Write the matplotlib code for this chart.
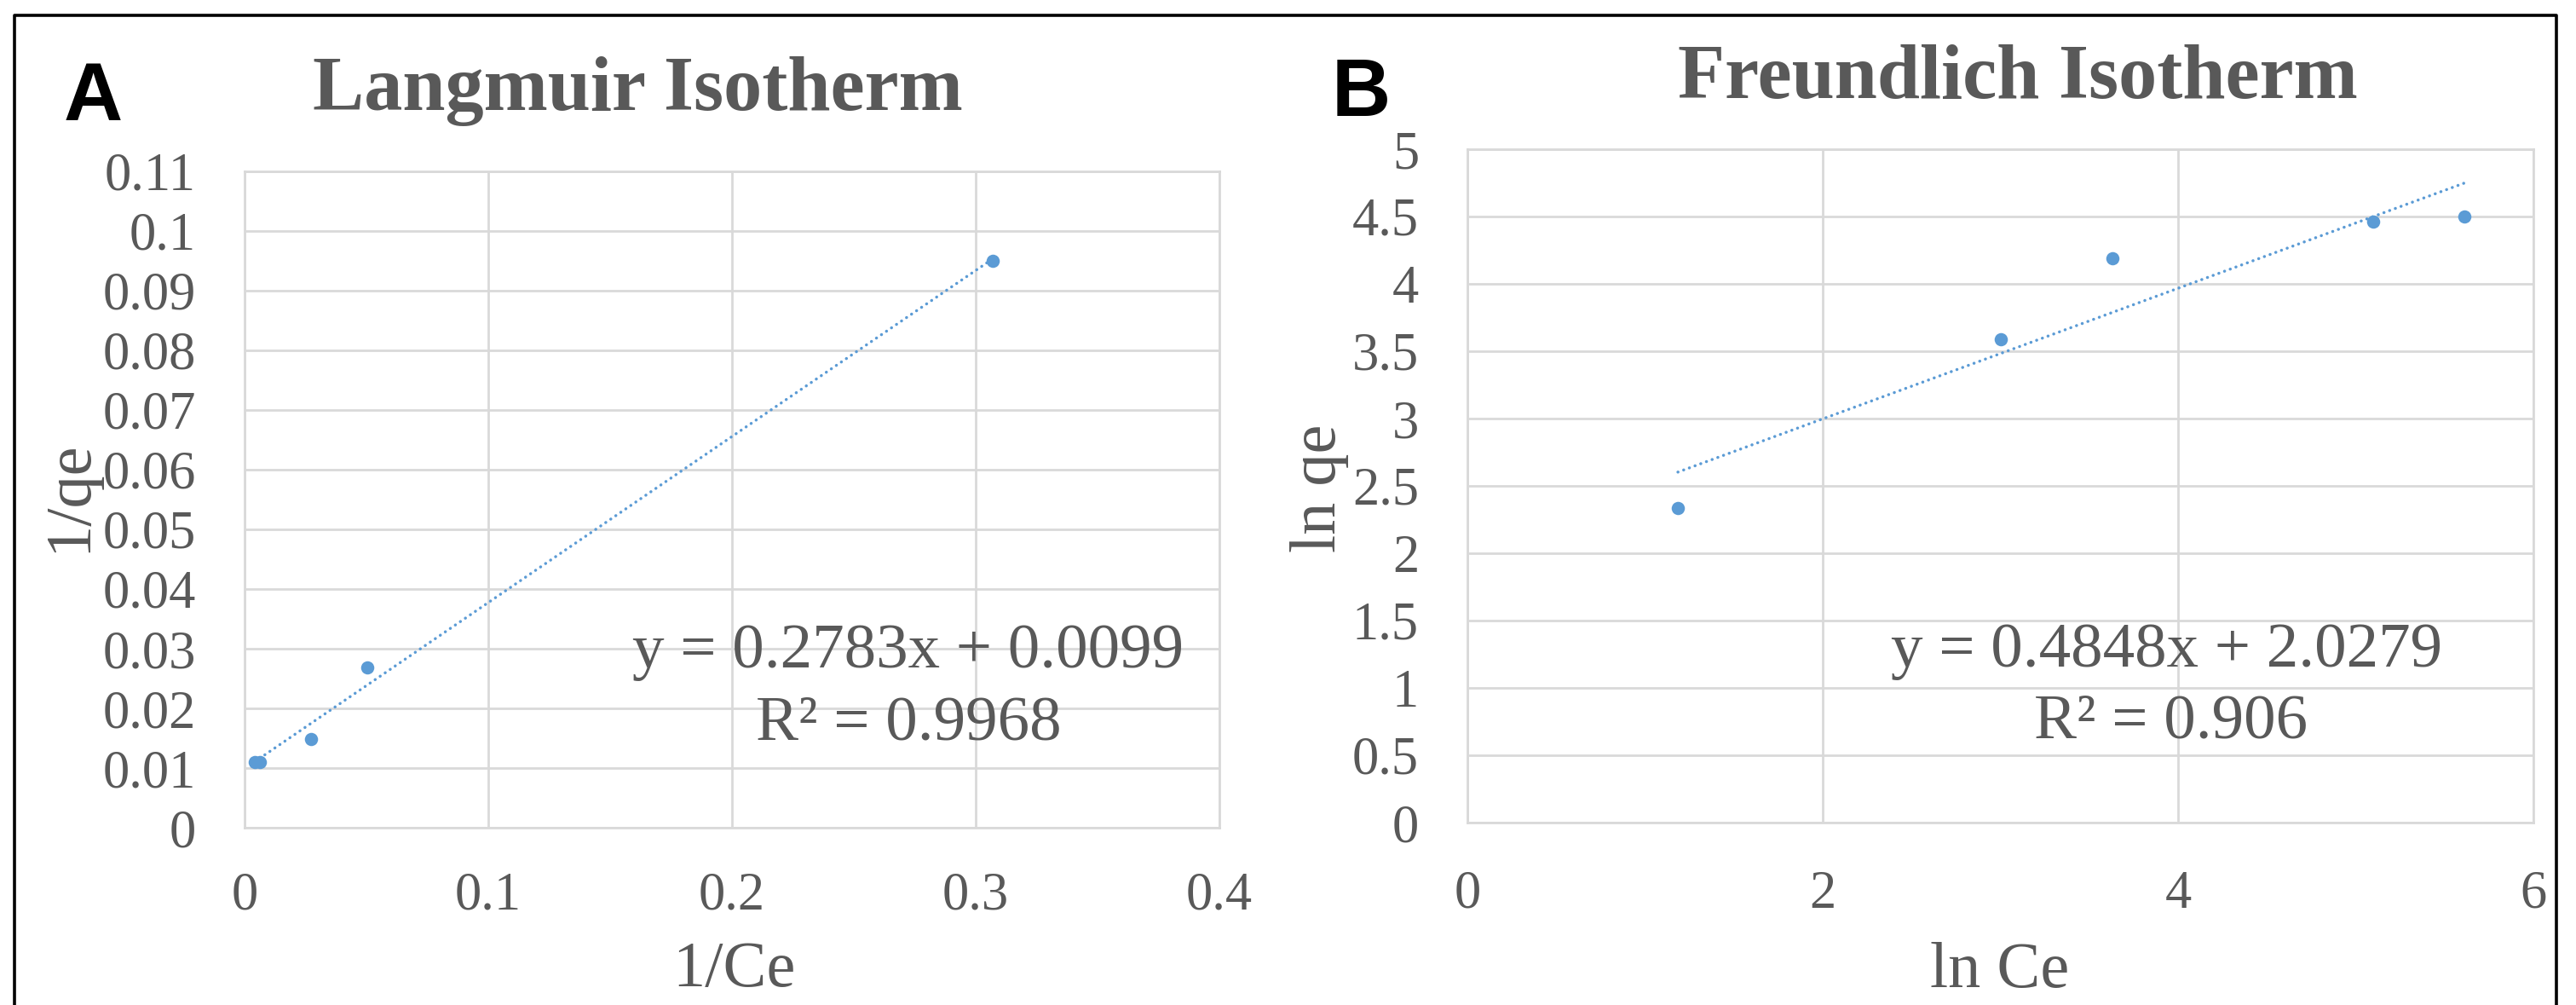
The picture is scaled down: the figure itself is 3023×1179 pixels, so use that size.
import numpy as np
import matplotlib.pyplot as plt
from matplotlib.lines import Line2D

## Langmuir data (1/Ce vs 1/qe)
lang_x = [0.0042, 0.0063, 0.0272, 0.0502, 0.307]
lang_y = [0.0110, 0.0110, 0.0149, 0.0269, 0.0950]
lang_slope, lang_icpt, lang_r2 = 0.2783, 0.0099, 0.9968

## Freundlich data (ln Ce vs ln qe)
freu_x = [1.185, 3.00, 3.63, 5.10, 5.61]
freu_y = [2.335, 3.59, 4.19, 4.465, 4.50]
freu_slope, freu_icpt, freu_r2 = 0.4848, 2.0279, 0.906

lang_yticks = [0, 0.01, 0.02, 0.03, 0.04, 0.05, 0.06, 0.07, 0.08, 0.09, 0.1, 0.11]
lang_xticks = [0, 0.1, 0.2, 0.3, 0.4]
freu_yticks = [0, 0.5, 1, 1.5, 2, 2.5, 3, 3.5, 4, 4.5, 5]
freu_xticks = [0, 2, 4, 6]

W, H = 3023, 1179
GRAY = '#595959'
GRID = '#d9d9d9'
BLUE = '#5b9bd5'
plt.rcParams['font.family'] = ['Liberation Serif', 'DejaVu Serif']

fig = plt.figure(figsize=(W / 100, H / 100), dpi=100)


def px(x, y):
    return x / W, 1 - y / H


def make_panel(rect, xs, ys, slope, icpt, xticks, yticks, xpad):
    ax = fig.add_axes(rect)
    ax.scatter(xs, ys, s=125, color=BLUE, zorder=3, linewidths=0)
    xl = np.array([min(xs), max(xs)])
    ax.plot(xl, slope * xl + icpt, color=BLUE, lw=2.5, linestyle=(0, (0.05, 2.0)),
            dash_capstyle='round', zorder=2)
    ax.set_xlim(xticks[0], xticks[-1])
    ax.set_ylim(yticks[0], yticks[-1])
    ax.set_xticks(xticks)
    ax.set_xticklabels(['%g' % v for v in xticks])
    ax.set_yticks(yticks)
    ax.set_yticklabels(['%g' % v for v in yticks])
    ax.grid(True, color=GRID, lw=2)
    ax.set_axisbelow(True)
    for s in ax.spines.values():
        s.set_color(GRID)
        s.set_linewidth(2)
    ax.tick_params(length=0, labelsize=45, labelcolor=GRAY)
    ax.tick_params(axis='y', pad=41)
    ax.tick_params(axis='x', pad=xpad)
    return ax


make_panel([287 / W, 1 - 971 / H, 1144 / W, 770 / H], lang_x, lang_y, lang_slope, lang_icpt,
           lang_xticks, lang_yticks, 37)
make_panel([1722 / W, 1 - 965 / H, 1251 / W, 790 / H], freu_x, freu_y, freu_slope, freu_icpt,
           freu_xticks, freu_yticks, 40)

# titles
fig.text(*px(748, 129), 'Langmuir Isotherm', fontsize=65, fontweight='bold', color=GRAY,
         ha='center', va='baseline')
fig.text(*px(2368, 115), 'Freundlich Isotherm', fontsize=65, fontweight='bold', color=GRAY,
         ha='center', va='baseline')

# panel letters
fig.text(*px(75, 141), 'A', fontsize=69, fontweight='bold', family='Liberation Sans',
         color='black', ha='left', va='baseline')
fig.text(*px(1563, 136), 'B', fontsize=69, fontweight='bold', family='Liberation Sans',
         color='black', ha='left', va='baseline')

# axis labels
fig.text(*px(861, 1157), '1/Ce', fontsize=55, color=GRAY, ha='center', va='baseline')
fig.text(*px(2347, 1158), 'ln Ce', fontsize=55, color=GRAY, ha='center', va='baseline')
fig.text(*px(100, 582), '1/qe', fontsize=55, color=GRAY, ha='center', va='baseline',
         rotation=90, rotation_mode='anchor')
fig.text(*px(1567, 573), 'ln qe', fontsize=55, color=GRAY, ha='center', va='baseline',
         rotation=90, rotation_mode='anchor')

# trendline equations
fig.text(*px(1066, 783), 'y = %.4fx + %.4f' % (lang_slope, lang_icpt), fontsize=54,
         color=GRAY, ha='center', va='baseline')
fig.text(*px(1066, 868), 'R² = %.4f' % lang_r2, fontsize=54, color=GRAY,
         ha='center', va='baseline')
fig.text(*px(2543, 782), 'y = %.4fx + %.4f' % (freu_slope, freu_icpt), fontsize=54,
         color=GRAY, ha='center', va='baseline')
fig.text(*px(2548, 866), 'R² = %g' % freu_r2, fontsize=54, color=GRAY,
         ha='center', va='baseline')

# outer frame (bottom edge falls outside the image)
bx = [17 / W, 17 / W, 3000 / W, 3000 / W]
by = [-0.05, 1 - 18 / H, 1 - 18 / H, -0.05]
fig.add_artist(Line2D(bx, by, transform=fig.transFigure, color='black', lw=2.6))

fig.savefig('out.png', dpi=100)
